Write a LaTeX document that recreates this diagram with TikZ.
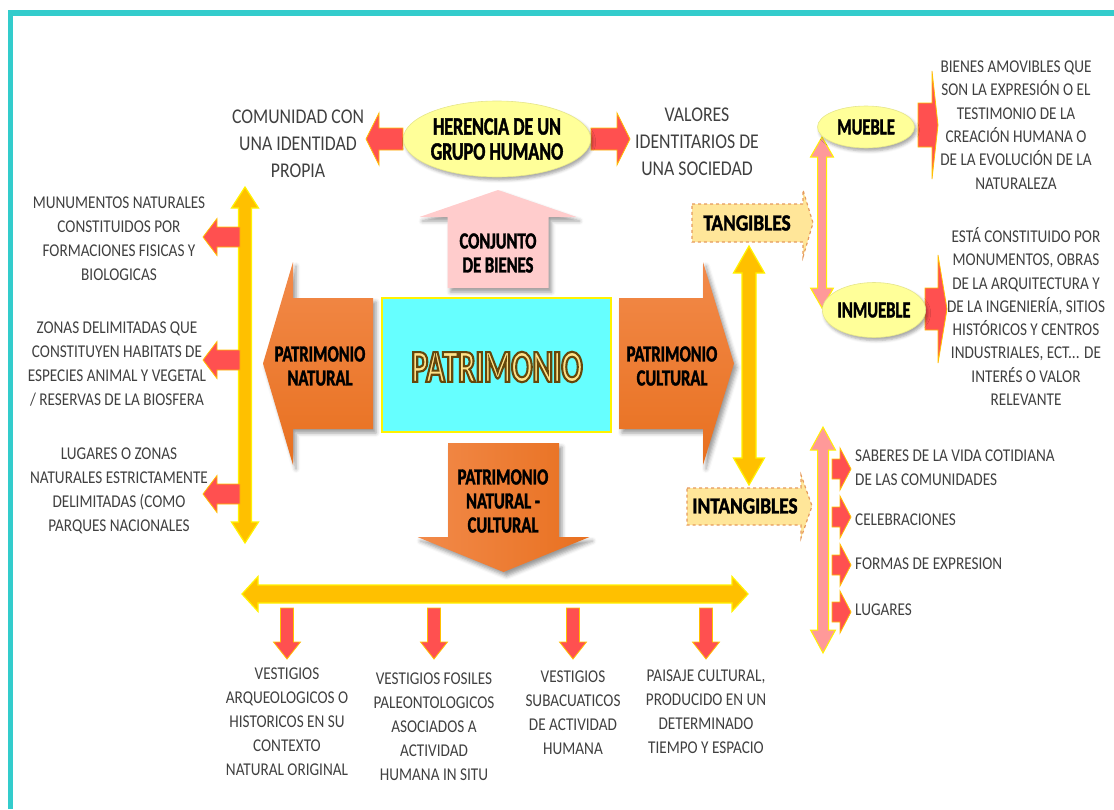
\documentclass[tikz,border=0pt]{standalone}
\usepackage{fontspec}
\setmainfont{Carlito}[FakeStretch=0.845]
\newfontfamily\headfont{Carlito}[FakeStretch=0.72,BoldFeatures={FakeBold=1.6}]
\newfontfamily\tagfont{Carlito}[FakeStretch=0.84,BoldFeatures={FakeBold=1.6}]
\newfontfamily\bigfont{Carlito}[FakeStretch=0.68]
\usetikzlibrary{calc,positioning,shapes.geometric,shadows.blur,backgrounds}

\definecolor{framecol}{HTML}{33CCCC}
\definecolor{goldarr}{HTML}{FFC000}
\definecolor{redarr}{HTML}{FF5050}
\definecolor{pinkarr}{HTML}{FF9999}
\definecolor{pinkbox}{HTML}{FFCCCC}
\definecolor{orangetop}{HTML}{F28A4A}
\definecolor{orangebot}{HTML}{E8701F}
\definecolor{ellfill}{HTML}{FFFF99}
\definecolor{ellline}{HTML}{E6E68C}
\definecolor{cyanbox}{HTML}{66FFFF}
\definecolor{tagfill}{HTML}{FFE699}
\definecolor{tagline}{HTML}{E59A5C}
\definecolor{bodytext}{HTML}{404040}
\definecolor{titlegold}{HTML}{FFE38A}

% outlined text (fill + brown stroke)
\newcommand{\outlined}[1]{%
  \special{pdf:literal direct 2.1 w 0.40 0.28 0.04 RG 2 Tr}#1\special{pdf:literal direct 0 Tr}}
% block arrow: [style]{tail}{tip}{shaft half}{head half}{head length}
\newcommand{\blockarrow}[6][]{%
  \path[#1] ($#2!#4pt!90:#3$) -- ($#3!#6pt!#2!#4pt!90:#3$)
    -- ($#3!#6pt!#2!#5pt!90:#3$) -- #3 -- ($#3!#6pt!#2!#5pt!-90:#3$)
    -- ($#3!#6pt!#2!#4pt!-90:#3$) -- ($#2!#4pt!-90:#3$) -- cycle;}
% double block arrow: [style]{end}{end}{shaft half}{head half}{head length}
\newcommand{\twowayarrow}[6][]{%
  \path[#1] #2 -- ($#2!#6pt!#3!#5pt!90:#3$) -- ($#2!#6pt!#3!#4pt!90:#3$)
    -- ($#3!#6pt!#2!#4pt!90:#3$) -- ($#3!#6pt!#2!#5pt!90:#3$) -- #3
    -- ($#3!#6pt!#2!#5pt!-90:#3$) -- ($#3!#6pt!#2!#4pt!-90:#3$)
    -- ($#2!#6pt!#3!#4pt!-90:#3$) -- ($#2!#6pt!#3!#5pt!-90:#3$) -- cycle;}

\tikzstyle{desc} = [align=center, inner sep=0pt, text=bodytext,
    font={\fontsize{18}{24}\selectfont}]
\tikzstyle{heading} = [align=center, inner sep=0pt,
    font={\headfont\bfseries\fontsize{23}{24}\selectfont}]
\tikzstyle{bubble} = [ellipse, fill=ellfill, draw=ellline, line width=.6pt,
    blur shadow={shadow xshift=2pt, shadow yshift=-3pt, shadow blur radius=3pt, shadow opacity=35}]
\tikzstyle{goldarrow} = [fill=goldarr, draw=yellow, line width=1.2pt]
\tikzstyle{redarrow} = [fill=redarr, draw=goldarr, line width=.8pt]
\tikzstyle{pinkarrow} = [fill=pinkarr, draw=yellow, line width=1pt]
\tikzstyle{orangearrow} = [top color=orangetop, bottom color=orangebot,
    blur shadow={shadow xshift=3pt, shadow yshift=-4pt, shadow blur radius=4pt, shadow opacity=40}]
\tikzstyle{orangedown} = [left color=orangetop, right color=orangebot,
    blur shadow={shadow xshift=3pt, shadow yshift=-4pt, shadow blur radius=4pt, shadow opacity=40}]
\tikzstyle{pinkup} = [fill=pinkbox,
    blur shadow={shadow xshift=3pt, shadow yshift=-4pt, shadow blur radius=4pt, shadow opacity=40}]
\tikzstyle{tagbox} = [fill=tagfill, draw=tagline, dashed, line width=1.2pt]

\begin{document}
\begin{tikzpicture}[x=1pt, y=-1pt]
  \useasboundingbox (0,0) rectangle (1114,809);
  \draw[framecol, line width=5.5pt] (10.3,809) -- (10.3,13) -- (1114,13);

  % centre
  \node (patr) [fill=cyanbox, draw=yellow, line width=1.5pt, minimum width=229,
    minimum height=134] at (496.5,365) {};
  \node (title) [text=titlegold, font={\bigfont\bfseries\fontsize{46}{46}\selectfont}]
    at (497,367) {\outlined{PATRIMONIO}};

  \node (her) [bubble, minimum width=185, minimum height=76, heading,
    font={\headfont\bfseries\fontsize{25}{25}\selectfont}] at (497,139)
    {HERENCIA DE UN\\GRUPO HUMANO};
  \node (comu) [desc, font={\fontsize{21}{27}\selectfont}] at (298,144)
    {COMUNIDAD CON\\UNA IDENTIDAD\\PROPIA};
  \node (valo) [desc, font={\fontsize{21}{27}\selectfont}] at (697,142)
    {VALORES\\IDENTITARIOS DE\\UNA SOCIEDAD};
  \node (conj) [heading] at (498,253) {CONJUNTO\\DE BIENES};
  \node (pnat) [heading] at (320,366) {PATRIMONIO\\NATURAL};
  \node (pcul) [heading] at (672,366) {PATRIMONIO\\CULTURAL};
  \node (pnc) [heading] at (503,501) {PATRIMONIO\\NATURAL -\\CULTURAL};

  % natural
  \node (mon) [desc] at (119,239)
    {MUNUMENTOS NATURALES\\CONSTITUIDOS POR\\FORMACIONES FISICAS Y\\BIOLOGICAS};
  \node (zon) [desc] at (117,364)
    {ZONAS DELIMITADAS QUE\\CONSTITUYEN HABITATS DE\\ESPECIES ANIMAL Y VEGETAL\\/ RESERVAS DE LA BIOSFERA};
  \node (lug) [desc] at (119,491)
    {LUGARES O ZONAS\\NATURALES ESTRICTAMENTE\\DELIMITADAS (COMO\\PARQUES NACIONALES};

  % natural - cultural
  \node (arq) [desc] at (287,721.5)
    {VESTIGIOS\\ARQUEOLOGICOS O\\HISTORICOS EN SU\\CONTEXTO\\NATURAL ORIGINAL};
  \node (fos) [desc] at (434,726.5)
    {VESTIGIOS FOSILES\\PALEONTOLOGICOS\\ASOCIADOS A\\ACTIVIDAD\\HUMANA IN SITU};
  \node (sub) [desc] at (573,712.5)
    {VESTIGIOS\\SUBACUATICOS\\DE ACTIVIDAD\\HUMANA};
  \node (pai) [desc] at (706,712)
    {PAISAJE CULTURAL,\\PRODUCIDO EN UN\\DETERMINADO\\TIEMPO Y ESPACIO};

  % cultural
  \node (tang) [heading, font={\tagfont\bfseries\fontsize{23}{24}\selectfont}] at (747,223) {TANGIBLES};
  \node (intang) [heading, font={\tagfont\bfseries\fontsize{23}{24}\selectfont}] at (745,506) {INTANGIBLES};
  \node (mue) [bubble, heading, minimum width=97, minimum height=42] at (866,127) {MUEBLE};
  \node (inm) [bubble, heading, minimum width=92, minimum height=55] at (874,310) {INMUEBLE};
  \node (mtxt) [desc, font={\fontsize{18}{23.3}\selectfont}] at (1016,125)
    {BIENES AMOVIBLES QUE\\SON LA EXPRESIÓN O EL\\TESTIMONIO DE LA\\CREACIÓN HUMANA O\\DE LA EVOLUCIÓN DE LA\\NATURALEZA};
  \node (itxt) [desc, font={\fontsize{18}{23.3}\selectfont}] at (1026,316.5)
    {ESTÁ CONSTITUIDO POR\\MONUMENTOS, OBRAS\\DE LA ARQUITECTURA Y\\DE LA INGENIERÍA, SITIOS\\HISTÓRICOS Y CENTROS\\INDUSTRIALES, ECT... DE\\INTERÉS O VALOR\\RELEVANTE};
  \node (sab) [desc, anchor=west, align=left] at (855,468)
    {SABERES DE LA VIDA COTIDIANA\\DE LAS COMUNIDADES};
  \node (cel) [desc, anchor=west] at (855,520) {CELEBRACIONES};
  \node (forma) [desc, anchor=west] at (855,564) {FORMAS DE EXPRESION};
  \node (lugr) [desc, anchor=west] at (855,610) {LUGARES};

  \begin{pgfonlayer}{background}
    \blockarrow[redarrow]{(her.west)}{(366,139)}{11}{26}{13}
    \blockarrow[redarrow]{(her.east)}{(630,139)}{11}{26}{13}
    \blockarrow[pinkup]{(498,288)}{(498,190)}{50.5}{78.5}{27}
    \blockarrow[orangearrow]{(373,363.5)}{(263,363.5)}{65.5}{101.5}{30}
    \blockarrow[orangearrow]{(619,363.5)}{(734,363.5)}{65.5}{101.5}{31}
    \blockarrow[orangedown]{(503.5,443)}{(503.5,572)}{55.5}{86}{35}

    \twowayarrow[goldarrow]{(245,187)}{(245,543)}{6.5}{13.5}{21}
    \blockarrow[redarrow]{(240,237)}{(203,237)}{10}{18.5}{14}
    \blockarrow[redarrow]{(240,360)}{(203,360)}{10}{18.5}{14}
    \blockarrow[redarrow]{(240,494)}{(203,494)}{10}{18.5}{14}

    \twowayarrow[goldarrow]{(242,594)}{(748,594)}{9}{17.5}{16}
    \blockarrow[redarrow]{(287,608)}{(287,659)}{6.5}{13.5}{17}
    \blockarrow[redarrow]{(434,608)}{(434,659)}{6.5}{13.5}{17}
    \blockarrow[redarrow]{(573,608)}{(573,659)}{6.5}{13.5}{17}
    \blockarrow[redarrow]{(706,608)}{(706,659)}{6.5}{13.5}{17}

    \path[tagbox] (692,204) -- (803,204) -- (803,190) -- (813,223) -- (803,257)
      -- (803,242) -- (692,242) -- cycle;
    \path[tagbox] (687,488) -- (801,488) -- (801,475) -- (812,506) -- (801,538)
      -- (801,525) -- (687,525) -- cycle;
    \twowayarrow[goldarrow]{(749,246)}{(749,485)}{7}{15.5}{27}

    \twowayarrow[pinkarrow]{(822,137)}{(822,308)}{4.5}{11.5}{20}
    \blockarrow[redarrow]{(918,125)}{(938,125)}{22}{54}{6}
    \blockarrow[redarrow]{(925,309)}{(947,309)}{21}{54}{9}

    \twowayarrow[pinkarrow]{(823,427)}{(823,653)}{5.5}{12.5}{23}
    \blockarrow[redarrow]{(832,469)}{(851,469)}{10}{21}{11}
    \blockarrow[redarrow]{(832,517)}{(851,517)}{10}{21}{11}
    \blockarrow[redarrow]{(832,565)}{(851,565)}{10}{21}{11}
    \blockarrow[redarrow]{(832,612)}{(851,612)}{10}{21}{11}
  \end{pgfonlayer}
\end{tikzpicture}
\end{document}
